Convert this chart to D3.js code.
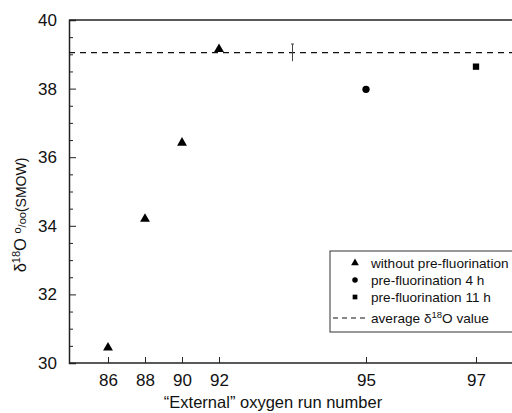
<!DOCTYPE html>
<html><head><meta charset="utf-8">
<script src="https://cdn.jsdelivr.net/npm/d3@7"></script>
<style>body{margin:0;background:#fff}svg{display:block}text{font-family:"Liberation Sans",Arial,sans-serif;fill:#111}</style>
</head><body><svg id="c" width="512" height="413"></svg>
<script>
const runsWithout = [86, 88, 90, 92];
const valuesWithout = [30.45, 34.2, 36.42, 39.15];
const runs4h = [95];
const values4h = [37.98];
const runs11h = [97];
const values11h = [38.64];
const averageValue = 39.05;
const averageRun = 93.5;
const averageErr = 0.25;
const xTicks = [86, 88, 90, 92, 95, 97];
const yTicks = [30, 32, 34, 36, 38, 40];
const legendLabels = ["without pre-fluorination", "pre-fluorination 4 h", "pre-fluorination 11 h", "average δ18O value"];

const svg = d3.select("#c");
const L = 69, T = 20, B = 363, R = 516;
const x = d3.scaleLinear().domain([86, 92, 95, 97]).range([108, 219, 366, 476]);
const y = d3.scaleLinear().domain([30, 40]).range([B, T]);

// frame
svg.append("line").attr("x1", L).attr("x2", R).attr("y1", T).attr("y2", T).attr("stroke", "#222").attr("stroke-width", 1.3);
// left axis
const yAx = svg.append("g").attr("transform", `translate(${L},0)`)
  .call(d3.axisLeft(y).tickValues(yTicks).tickSize(-7).tickPadding(12).tickFormat(d3.format("d")));
yAx.select(".domain").attr("stroke", "#222").attr("stroke-width", 1.5);
yAx.selectAll("text").attr("font-size", 17).attr("fill", "#111").attr("font-family", "Liberation Sans, Arial");
const minorY = d3.range(30.5, 40, 0.5).filter(v => Math.abs(v - Math.round(v / 2) * 2) > 0.01);
svg.append("g").attr("transform", `translate(${L},0)`)
  .call(d3.axisLeft(y).tickValues(minorY).tickSize(-4).tickFormat(""))
  .call(g => g.select(".domain").remove());
// bottom axis
const xAx = svg.append("g").attr("transform", `translate(0,${B})`)
  .call(d3.axisBottom(x).tickValues(xTicks).tickSize(-6).tickPadding(11).tickFormat(d3.format("d")));
xAx.select(".domain").remove();
svg.append("line").attr("x1", L).attr("x2", R).attr("y1", B).attr("y2", B).attr("stroke", "#222").attr("stroke-width", 1.5);
xAx.selectAll("text").attr("font-size", 17).attr("fill", "#111").attr("font-family", "Liberation Sans, Arial");
svg.selectAll(".tick line").attr("stroke", "#222").attr("stroke-width", 1);

// average line
svg.append("line").attr("x1", L).attr("x2", R).attr("y1", y(averageValue)).attr("y2", y(averageValue))
  .attr("stroke", "#111").attr("stroke-width", 1.3).attr("stroke-dasharray", "6,5");
// error bar
svg.append("line").attr("x1", x(averageRun)).attr("x2", x(averageRun))
  .attr("y1", y(averageValue + averageErr)).attr("y2", y(averageValue - averageErr))
  .attr("stroke", "#444").attr("stroke-width", 1);
svg.append("line").attr("x1", x(averageRun) - 1.5).attr("x2", x(averageRun) + 1.5)
  .attr("y1", y(averageValue + averageErr)).attr("y2", y(averageValue + averageErr))
  .attr("stroke", "#444").attr("stroke-width", 1);

const tri = d3.symbol().type(d3.symbolTriangle).size(42);
const circ = d3.symbol().type(d3.symbolCircle).size(42);
const sq = d3.symbol().type(d3.symbolSquare).size(40);
svg.append("g").selectAll("path").data(runsWithout).join("path")
  .attr("d", tri).attr("fill", "#000")
  .attr("transform", (d, i) => `translate(${x(d)},${y(valuesWithout[i])})`);
svg.append("g").selectAll("path").data(runs4h).join("path")
  .attr("d", circ).attr("fill", "#000")
  .attr("transform", (d, i) => `translate(${x(d)},${y(values4h[i])})`);
svg.append("g").selectAll("path").data(runs11h).join("path")
  .attr("d", sq).attr("fill", "#000")
  .attr("transform", (d, i) => `translate(${x(d)},${y(values11h[i])})`);

// legend
const lg = svg.append("g");
lg.append("rect").attr("x", 330).attr("y", 251).attr("width", 200).attr("height", 81)
  .attr("fill", "#fff").attr("stroke", "#333").attr("stroke-width", 1);
const rowsY = [263, 280, 297, 318];
const syms = [d3.symbol().type(d3.symbolTriangle).size(26), d3.symbol().type(d3.symbolCircle).size(24), d3.symbol().type(d3.symbolSquare).size(22)];
syms.forEach((s, i) => lg.append("path").attr("d", s).attr("fill", "#000").attr("transform", `translate(355,${rowsY[i]})`));
lg.append("line").attr("x1", 333).attr("x2", 365).attr("y1", rowsY[3]).attr("y2", rowsY[3])
  .attr("stroke", "#111").attr("stroke-width", 1).attr("stroke-dasharray", "5,4");
legendLabels.forEach((t, i) => {
  const tx = lg.append("text").attr("x", 371).attr("y", rowsY[i]).attr("dy", "0.35em").attr("font-size", 13.6);
  if (i === 3) {
    tx.append("tspan").text("average δ");
    tx.append("tspan").attr("dy", -5).attr("font-size", 9.5).text("18");
    tx.append("tspan").attr("dy", 5).text("O value");
  } else tx.text(t);
});

// axis titles
svg.append("text").attr("x", 273).attr("y", 408).attr("text-anchor", "middle").attr("font-size", 16.5)
  .text("“External” oxygen run number");
const yt = svg.append("text").attr("transform", "translate(26,215) rotate(-90)").attr("text-anchor", "middle").attr("font-size", 16.5);
yt.append("tspan").text("δ");
yt.append("tspan").attr("dy", -6).attr("font-size", 11).text("18");
yt.append("tspan").attr("dy", 6).text("O ");
yt.append("tspan").attr("font-size", 11).attr("dy", -5).text("o");
yt.append("tspan").attr("font-size", 11).attr("dy", 5).text("/oo");
yt.append("tspan").attr("font-size", 14).text("(SMOW)");
</script></body></html>
